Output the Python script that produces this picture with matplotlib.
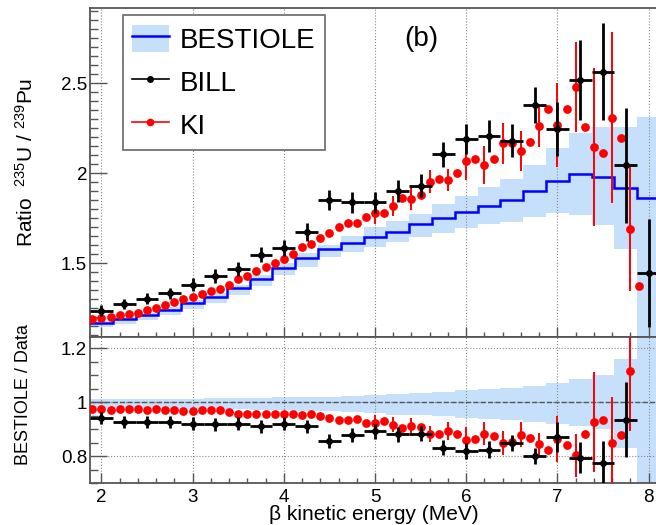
import numpy as np
import matplotlib
matplotlib.use('Agg')
import matplotlib.pyplot as plt
from matplotlib.patches import Patch
from matplotlib.lines import Line2D
from matplotlib.ticker import MultipleLocator, FuncFormatter

plt.rcParams['font.family'] = ['Liberation Sans', 'DejaVu Sans']
plt.rcParams['mathtext.fontset'] = 'custom'
plt.rcParams['mathtext.rm'] = 'Liberation Sans'
plt.rcParams['mathtext.default'] = 'regular'

# BESTIOLE prediction, 250 keV bins
edges = np.arange(1.875, 8.126, 0.25)
bestiole = [1.168, 1.187, 1.209, 1.239, 1.276, 1.313, 1.359, 1.409, 1.475, 1.526,
            1.576, 1.613, 1.646, 1.674, 1.715, 1.752, 1.785, 1.817, 1.85, 1.898,
            1.957, 1.993, 1.98, 1.919, 1.863]
band_lo = [1.142, 1.160, 1.181, 1.209, 1.244, 1.279, 1.322, 1.370, 1.431, 1.477,
           1.535, 1.563, 1.591, 1.618, 1.646, 1.668, 1.695, 1.717, 1.73, 1.757,
           1.776, 1.767, 1.711, 1.576, 0.9]
band_hi = [1.180, 1.199, 1.222, 1.254, 1.293, 1.331, 1.379, 1.432, 1.500, 1.553,
           1.60, 1.65, 1.698, 1.733, 1.772, 1.826, 1.873, 1.924, 1.967, 2.044,
           2.137, 2.22, 2.257, 2.257, 2.309]
# relative band for the lower pad
rel_lo = [0.978, 0.977, 0.977, 0.976, 0.975, 0.974, 0.973, 0.972, 0.970, 0.968,
          0.966, 0.962, 0.958, 0.951, 0.951, 0.947, 0.942, 0.938, 0.932, 0.926,
          0.917, 0.910, 0.901, 0.830, 0.40]
rel_hi = [1.010, 1.010, 1.011, 1.012, 1.013, 1.014, 1.015, 1.016, 1.017, 1.018,
          1.020, 1.022, 1.025, 1.029, 1.033, 1.037, 1.043, 1.049, 1.053, 1.058,
          1.072, 1.084, 1.099, 1.160, 1.30]

# BILL data
bill_e = np.arange(2.0, 8.01, 0.25)
bill_ratio = [1.235, 1.272, 1.302, 1.332, 1.38, 1.428, 1.468, 1.546, 1.583, 1.674,
              1.85, 1.837, 1.837, 1.90, 1.93, 2.104, 2.187, 2.207, 2.18, 2.378,
              2.244, 2.517, 2.563, 2.044, 1.443]
bill_err = [0.03, 0.03, 0.03, 0.032, 0.035, 0.037, 0.04, 0.042, 0.045, 0.05,
            0.057, 0.058, 0.06, 0.062, 0.065, 0.07, 0.083, 0.09, 0.093, 0.10,
            0.15, 0.22, 0.27, 0.32, 0.30]
bill_pred_e = bill_e[:-1]
bill_pred = [0.941, 0.926, 0.926, 0.926, 0.92, 0.917, 0.92, 0.91, 0.92, 0.91,
             0.854, 0.877, 0.891, 0.88, 0.883, 0.83, 0.819, 0.823, 0.848, 0.80,
             0.87, 0.794, 0.774, 0.935]
bill_pred_err = [0.022, 0.022, 0.022, 0.022, 0.023, 0.023, 0.024, 0.024, 0.025, 0.025,
                 0.026, 0.026, 0.027, 0.028, 0.028, 0.028, 0.03, 0.032, 0.03, 0.03,
                 0.056, 0.058, 0.08, 0.14]

# KI data, 100 keV bins
ki_e = np.round(np.arange(1.9, 7.91, 0.1), 1)
ki_ratio = [1.189, 1.193, 1.202, 1.211, 1.215, 1.220, 1.239, 1.248, 1.267, 1.282,
            1.300, 1.311, 1.328, 1.343, 1.357, 1.380, 1.409, 1.430, 1.457, 1.478,
            1.500, 1.522, 1.548, 1.59, 1.604, 1.637, 1.665, 1.700, 1.720, 1.720,
            1.754, 1.780, 1.780, 1.817, 1.859, 1.856, 1.880, 1.952, 1.967, 1.961,
            2.002, 2.067, 2.078, 2.044, 2.078, 2.165, 2.165, 2.122, 2.170, 2.260,
            2.356, 2.267, 2.356, 2.480, 2.257, 2.146, 2.113, 2.307, 2.193, 1.689,
            1.372]
ki_err = [0.01] * 11 + [0.012] * 10 + [0.015] * 10 + [
    0.065, 0, 0.055, 0, 0.06, 0, 0.065, 0, 0.06, 0,
    0.105, 0, 0.104, 0, 0.113, 0, 0.11, 0, 0.116, 0,
    0.236, 0, 0.25, 0, 0.44, 0, 0.475, 0, 0.345, 0]
ki_pred_e = ki_e[:-1]
ki_pred = [0.973, 0.975, 0.969, 0.973, 0.975, 0.973, 0.969, 0.973, 0.969, 0.969,
           0.967, 0.967, 0.969, 0.972, 0.969, 0.963, 0.957, 0.954, 0.954, 0.957,
           0.954, 0.954, 0.957, 0.951, 0.954, 0.948, 0.942, 0.932, 0.932, 0.936,
           0.923, 0.922, 0.928, 0.916, 0.904, 0.912, 0.907, 0.883, 0.883, 0.893,
           0.880, 0.860, 0.864, 0.883, 0.875, 0.848, 0.852, 0.879, 0.868, 0.843,
           0.821, 0.864, 0.839, 0.803, 0.883, 0.926, 0.935, 0.848, 0.879, 1.114]
ki_pred_err = [0.006] * 31 + [
    0.029, 0, 0.028, 0, 0.03, 0, 0.03, 0, 0.034, 0,
    0.046, 0, 0.043, 0, 0.045, 0, 0.046, 0, 0.043, 0,
    0.085, 0, 0.08, 0, 0.185, 0, 0.17, 0, 0.22]

band_color = '#c6e0fb'
frame_color = '#555555'
W, H = 656, 525

fig = plt.figure(figsize=(W / 100, H / 100), dpi=100)
ax1 = fig.add_axes([90 / W, 1 - 337 / H, 570 / W, 329 / H])
ax2 = fig.add_axes([90 / W, 1 - 483 / H, 570 / W, 146 / H], sharex=ax1)

fmt = FuncFormatter(lambda v, p: f'{v:g}')

# upper pad: ratio
ax1.stairs(band_hi, edges, baseline=band_lo, fill=True, color=band_color, lw=0, zorder=1)
ax1.stairs(bestiole, edges, baseline=None, color='#0000ff', lw=1.8, zorder=3)
ax1.errorbar(ki_e, ki_ratio, yerr=ki_err, fmt='o', color='red', ms=6.3, mew=0,
             elinewidth=1.4, capsize=2, capthick=1.2, zorder=4)
ax1.errorbar(bill_e, bill_ratio, xerr=0.125, yerr=bill_err, fmt='o', color='black',
             ms=5, mew=0, elinewidth=2, capsize=0, zorder=5)
ax1.set_xlim(1.875, 8.125)
ax1.set_ylim(1.089, 2.917)
ax1.set_yticks([1.5, 2, 2.5])
ax1.yaxis.set_minor_locator(MultipleLocator(0.05))
ax1.yaxis.set_major_formatter(fmt)
ax1.grid(axis='x', which='major', ls=':', color='#888888', lw=0.8)

# lower pad: BESTIOLE / data
ax2.stairs(rel_hi, edges, baseline=rel_lo, fill=True, color=band_color, lw=0, zorder=1)
ax2.axhline(1, color='#555555', ls='--', lw=1, zorder=2)
ax2.errorbar(ki_pred_e, ki_pred, yerr=ki_pred_err, fmt='o', color='red', ms=6.3, mew=0,
             elinewidth=1.4, capsize=2, capthick=1.2, zorder=4)
ax2.errorbar(bill_pred_e, bill_pred, xerr=0.125, yerr=bill_pred_err, fmt='o',
             color='black', ms=5, mew=0, elinewidth=2, capsize=0, zorder=5)
ax2.set_ylim(0.70, 1.241)
ax2.set_yticks([0.8, 1, 1.2])
ax2.yaxis.set_minor_locator(MultipleLocator(0.05))
ax2.yaxis.set_major_formatter(fmt)
ax2.grid(which='major', ls=':', color='#888888', lw=0.8)

ax2.set_xticks(range(2, 9))
ax2.xaxis.set_minor_locator(MultipleLocator(0.2))
ax2.xaxis.set_major_formatter(fmt)

for ax in (ax1, ax2):
    for s in ax.spines.values():
        s.set_color(frame_color)
        s.set_linewidth(1.3)
    ax.tick_params(axis='y', which='major', direction='in', length=12, width=1,
                   color=frame_color, labelsize=13.5, pad=2)
    ax.tick_params(axis='y', which='minor', direction='in', length=5.5, width=1,
                   color=frame_color)
    ax.tick_params(axis='x', which='major', direction='in', length=7, width=1,
                   color=frame_color, labelsize=13.5, pad=4)
    ax.tick_params(axis='x', which='minor', direction='in', length=3.5, width=1,
                   color=frame_color)
ax1.tick_params(axis='x', which='both', labelbottom=False)

h_best = (Patch(facecolor=band_color, edgecolor='none'), Line2D([], [], color='#0000ff', lw=1.8))
h_bill = Line2D([], [], color='black', marker='o', ms=5, mew=0, lw=1.2)
h_ki = Line2D([], [], color='red', marker='o', ms=5.5, mew=0, lw=1.2)
leg = ax1.legend([h_best, h_bill, h_ki], ['BESTIOLE', 'BILL', 'KI'], loc='upper left',
                 bbox_to_anchor=(0.0574, 0.979), borderaxespad=0, fontsize=20,
                 fancybox=False, edgecolor='#666666', framealpha=1, handlelength=1.3,
                 handleheight=1.15, handletextpad=0.4, labelspacing=0.5, borderpad=0.35)
leg.get_frame().set_linewidth(1.2)

fig.text(421 / W, 1 - 39 / H, '(b)', ha='center', va='center', fontsize=20)
fig.text(26 / W, 1 - 162 / H, 'Ratio  $^{235}$U / $^{239}$Pu', rotation=90,
         ha='center', va='center', fontsize=15)
fig.text(24 / W, 1 - 395 / H, 'BESTIOLE / Data', rotation=90,
         ha='center', va='center', fontsize=13)
fig.text(374 / W, 1 - 514 / H, 'β kinetic energy (MeV)', ha='center', va='center',
         fontsize=15)

fig.savefig('out.png', dpi=100)
